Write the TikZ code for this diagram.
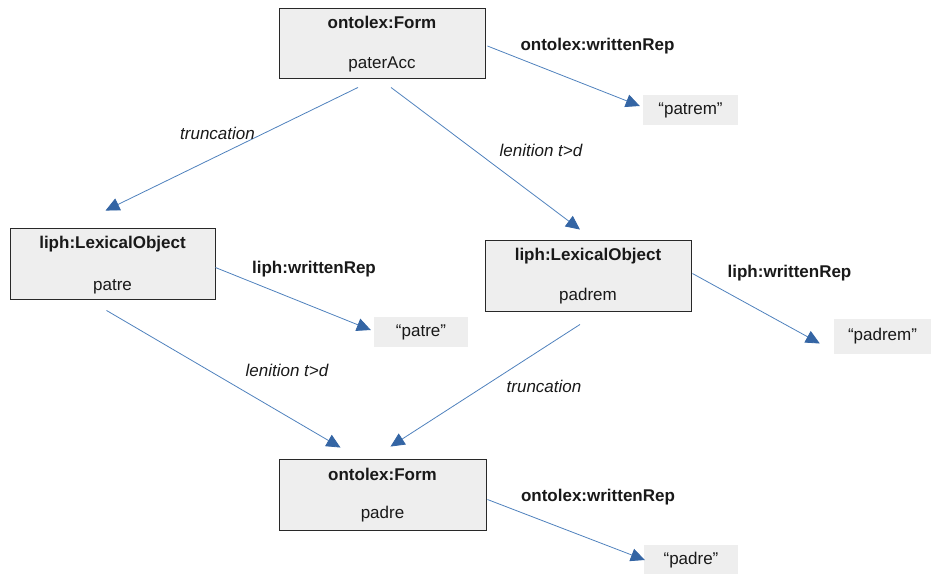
\documentclass[tikz,border=0pt]{standalone}
\usepackage{fontspec}
\setmainfont{Liberation Sans}
\usetikzlibrary{arrows.meta,calc}
\definecolor{boxfill}{RGB}{238,238,238}
\definecolor{boxline}{RGB}{40,40,40}
\definecolor{edge}{RGB}{79,129,189}
\definecolor{headcol}{RGB}{52,101,164}
\definecolor{txt}{RGB}{25,25,25}
\tikzset{
  resbox/.style={draw=boxline, line width=0.9pt, fill=boxfill, minimum width=206pt, minimum height=70pt, inner sep=0pt,
    preaction={fill=black!55, transform canvas={xshift=1.2pt,yshift=-1.2pt}}},
  litbox/.style={fill=boxfill, minimum width=95pt, minimum height=30pt, inner sep=0pt, text=txt, font=\fontsize{17}{20}\selectfont},
  ttl/.style={font=\fontsize{17}{20}\selectfont\bfseries, text=txt, inner sep=0pt},
  nm/.style={font=\fontsize{17}{20}\selectfont, text=txt, inner sep=0pt},
  elab/.style={font=\fontsize{17}{20}\selectfont\itshape, text=txt, inner sep=0pt},
  plab/.style={font=\fontsize{17}{20}\selectfont\bfseries, text=txt, inner sep=0pt},
  rel/.style={draw=edge, line width=0.8pt, -{Triangle[length=14pt,width=13pt,fill=headcol,color=headcol]}},
}
\begin{document}
\begin{tikzpicture}[x=1pt,y=-1pt]
\useasboundingbox (0,0) rectangle (931,573);

% resource boxes
\node[resbox] (top) at (382,43) {};
\node[ttl] (topT) at ($(top.north)+(0,15)$) {ontolex:Form};
\node[nm]  (topN) at ($(top.south)+(0,-14)$) {paterAcc};

\node[resbox, minimum width=205pt, minimum height=71pt] (lft) at (112.5,263.5) {};
\node[ttl] (lftT) at ($(lft.north)+(0,17)$) {liph:LexicalObject};
\node[nm]  (lftN) at ($(lft.south)+(0,-13)$) {patre};

\node[resbox, minimum height=71pt] (rgt) at (588,275.5) {};
\node[ttl] (rgtT) at ($(rgt.north)+(0,17)$) {liph:LexicalObject};
\node[nm]  (rgtN) at ($(rgt.south)+(0,-15)$) {padrem};

\node[resbox, minimum width=207pt, minimum height=71pt] (bot) at (382.5,494.5) {};
\node[ttl] (botT) at ($(bot.north)+(0,16)$) {ontolex:Form};
\node[nm]  (botN) at ($(bot.south)+(0,-16)$) {padre};

% literal values
\node[litbox] (litA) at (690.5,110) {“patrem”};
\node[litbox, minimum width=94pt] (litB) at (421,332) {“patre”};
\node[litbox, minimum width=97pt, minimum height=35pt] (litC) at (882.5,336.5) {“padrem”};
\node[litbox, minimum width=94pt] (litD) at (691,560) {“padre”};

% derivation edges
\draw[rel] ($(top.south)+(-24,9)$) -- ($(lft.north)+(-7,-17)$);
\draw[rel] ($(top.south)+(9,9)$) -- ($(rgt.north)+(-8,-10)$);
\draw[rel] ($(lft.south)+(-6,11)$) -- ($(bot.north)+(-42,-11)$);
\draw[rel] ($(rgt.south)+(-8,13)$) -- ($(bot.north)+(8,-12)$);

% writtenRep edges
\draw[rel] ($(top.east)+(2,3)$) -- ($(litA.west)+(-3,-4)$);
\draw[rel] ($(lft.east)+(0,4)$) -- ($(litB.west)+(-3,-2)$);
\draw[rel] ($(rgt.east)+(1,-2)$) -- ($(litC.west)+(-14,7)$);
\draw[rel] ($(bot.east)+(1,5)$) -- ($(litD.west)+(1,0)$);

% edge labels
\node[elab] (l1) at (217.5,133) {truncation};
\node[elab] (l2) at (541,150) {lenition t>d};
\node[elab] (l3) at (287,370) {lenition t>d};
\node[elab] (l4) at (544,386) {truncation};
\node[plab] (p1) at (597.5,46) {ontolex:writtenRep};
\node[plab] (p2) at (314,269) {liph:writtenRep};
\node[plab] (p3) at (789.5,273) {liph:writtenRep};
\node[plab] (p4) at (598,497) {ontolex:writtenRep};
\end{tikzpicture}
\end{document}
